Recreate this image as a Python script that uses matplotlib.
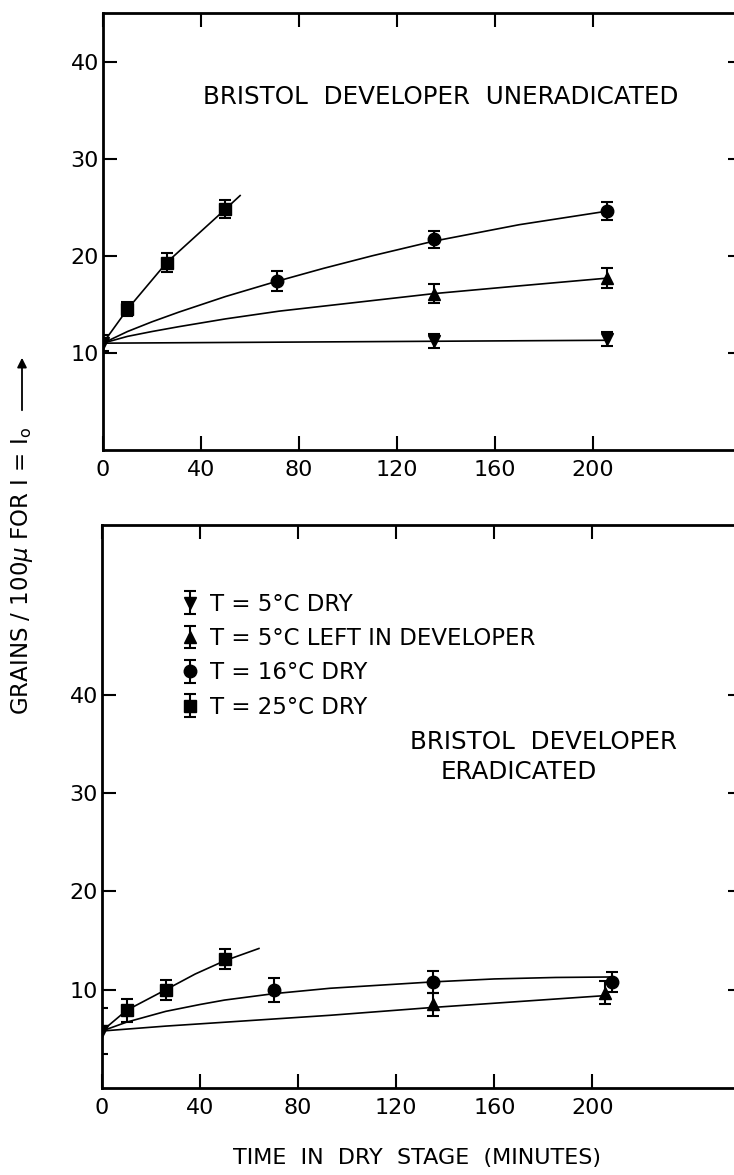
import matplotlib
matplotlib.use("Agg")
import matplotlib.pyplot as plt

# ---------------- data ----------------
labels = ["T = 5°C DRY", "T = 5°C LEFT IN DEVELOPER", "T = 16°C DRY", "T = 25°C DRY"]
markers = ["v", "^", "o", "s"]

# Upper panel: Bristol developer uneradicated
top_5dry_x = [0, 135, 206]
top_5dry_y = [11.0, 11.2, 11.4]
top_5dry_e = [0.8, 0.7, 0.7]
top_5left_x = [135, 206]
top_5left_y = [16.1, 17.7]
top_5left_e = [1.0, 1.0]
top_16_x = [71, 135, 206]
top_16_y = [17.4, 21.7, 24.6]
top_16_e = [1.0, 0.9, 0.9]
top_25_x = [10, 26, 50]
top_25_y = [14.5, 19.3, 24.8]
top_25_e = [0.7, 1.0, 0.9]

# fitted curves, upper panel
top_c25_x = [0, 10, 26, 50, 56]
top_c25_y = [11.0, 14.5, 19.3, 24.8, 26.2]
top_c16_x = [0, 10, 20, 31, 50, 70, 90, 110, 135, 170, 206]
top_c16_y = [11.0, 12.2, 13.2, 14.2, 15.8, 17.3, 18.7, 20.0, 21.5, 23.2, 24.6]
top_c5l_x = [0, 10, 20, 31, 50, 72, 107, 135, 170, 206]
top_c5l_y = [11.0, 11.7, 12.2, 12.7, 13.5, 14.3, 15.3, 16.1, 16.9, 17.7]
top_c5d_x = [0, 206]
top_c5d_y = [11.0, 11.3]

# Lower panel: Bristol developer eradicated
bot_5dry_x = [0]
bot_5dry_y = [5.8]
bot_5dry_e = [2.3]
bot_5left_x = [135, 205]
bot_5left_y = [8.5, 9.7]
bot_5left_e = [1.2, 1.2]
bot_16_x = [70, 135, 208]
bot_16_y = [10.0, 10.8, 10.8]
bot_16_e = [1.2, 1.1, 1.0]
bot_25_x = [10, 26, 50]
bot_25_y = [7.9, 10.0, 13.1]
bot_25_e = [1.2, 1.0, 1.0]

# fitted curves, lower panel
bot_c25_x = [0, 10, 26, 38, 50, 64]
bot_c25_y = [5.8, 7.9, 10.0, 11.6, 12.95, 14.2]
bot_c16_x = [0, 10, 26, 40, 50, 70, 93, 135, 160, 185, 208]
bot_c16_y = [5.8, 6.7, 7.8, 8.5, 8.95, 9.6, 10.15, 10.8, 11.1, 11.25, 11.3]
bot_c5l_x = [0, 26, 93, 135, 205]
bot_c5l_y = [5.8, 6.3, 7.4, 8.2, 9.4]

xticks = [0, 40, 80, 120, 160, 200]
yticks = [10, 20, 30, 40]

# ---------------- figure ----------------
plt.rcParams['font.family'] = ['DejaVu Sans']
W, H = 734, 1175
fig = plt.figure(figsize=(W / 100, H / 100), dpi=100)


def axpos(l, t, r, b):
    return [l / W, 1 - b / H, (r - l) / W, (b - t) / H]


ax1 = fig.add_axes(axpos(103, 13, 742, 450))
ax2 = fig.add_axes(axpos(102, 525, 742, 1088))

ax1.set_ylim(0, 45)
ax2.set_ylim(0, 57.3)

for ax in (ax1, ax2):
    ax.set_xlim(0, 261)
    ax.set_xticks(xticks)
    ax.set_yticks(yticks)
    ax.tick_params(direction='in', length=10, width=1.5, top=True, right=True,
                   labelsize=16, pad=7)
    ax.tick_params(axis='y', pad=3)
    for s in ax.spines.values():
        s.set_linewidth(2)

lw = 1.2
ekw = dict(color='k', ls='none', ms=9, capsize=4.5, elinewidth=1.5, capthick=1.5)

# upper panel
ax1.plot(top_c25_x, top_c25_y, 'k-', lw=lw)
ax1.plot(top_c16_x, top_c16_y, 'k-', lw=lw)
ax1.plot(top_c5l_x, top_c5l_y, 'k-', lw=lw)
ax1.plot(top_c5d_x, top_c5d_y, 'k-', lw=lw)
ax1.errorbar(top_5dry_x, top_5dry_y, yerr=top_5dry_e, fmt=markers[0], **ekw)
ax1.errorbar(top_5left_x, top_5left_y, yerr=top_5left_e, fmt=markers[1], **ekw)
ax1.errorbar(top_16_x, top_16_y, yerr=top_16_e, fmt=markers[2], **ekw)
ax1.errorbar(top_25_x, top_25_y, yerr=top_25_e, fmt=markers[3], **ekw)
ax1.text(138, 36.4, "BRISTOL  DEVELOPER  UNERADICATED", ha='center', va='center',
         fontsize=17.7)

# lower panel
ax2.plot(bot_c25_x, bot_c25_y, 'k-', lw=lw)
ax2.plot(bot_c16_x, bot_c16_y, 'k-', lw=lw)
ax2.plot(bot_c5l_x, bot_c5l_y, 'k-', lw=lw)
h0 = ax2.errorbar(bot_5dry_x, bot_5dry_y, yerr=bot_5dry_e, fmt=markers[0], **ekw)
h1 = ax2.errorbar(bot_5left_x, bot_5left_y, yerr=bot_5left_e, fmt=markers[1], **ekw)
h2 = ax2.errorbar(bot_16_x, bot_16_y, yerr=bot_16_e, fmt=markers[2], **ekw)
h3 = ax2.errorbar(bot_25_x, bot_25_y, yerr=bot_25_e, fmt=markers[3], **ekw)
ax2.text(180, 35.2, "BRISTOL  DEVELOPER", ha='center', va='center', fontsize=17.7)
ax2.text(170, 32.2, "ERADICATED", ha='center', va='center', fontsize=17.7)

leg = ax2.legend([h0, h1, h2, h3], labels, loc='upper left',
                 bbox_to_anchor=(0.122, 0.880), frameon=False, fontsize=16.5,
                 handlelength=0.9, handletextpad=0.4, labelspacing=0.5,
                 borderpad=0, borderaxespad=0)

# axis labels
fig.text(417 / W, 1 - 1158 / H, "TIME  IN  DRY  STAGE  (MINUTES)", ha='center',
         va='center', fontsize=16)
fig.text(22 / W, 1 - 571 / H, r"GRAINS / 100$\mu$ FOR I = I$_{\rm o}$", rotation=90,
         ha='center', va='center', fontsize=16.5)
fig.add_artist(matplotlib.patches.FancyArrowPatch(
    (22 / W, 1 - 413 / H), (22 / W, 1 - 355 / H), transform=fig.transFigure,
    arrowstyle='-|>', mutation_scale=14, lw=1.3, color='k'))

fig.savefig("out.png", dpi=100)
